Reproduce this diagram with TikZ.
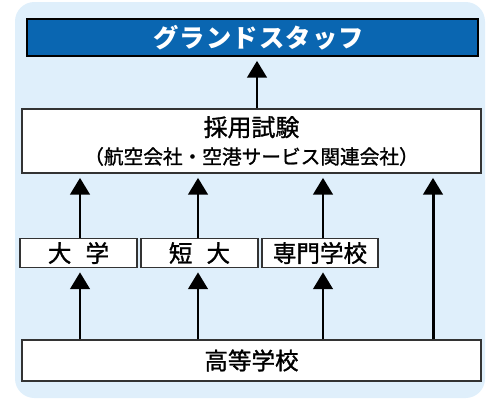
\documentclass[tikz,border=0pt]{standalone}
\usepackage{fontspec}
\setmainfont{Noto Sans CJK JP}
\newfontfamily\jpmed{Noto Sans CJK JP}[FakeBold=1.2]
\usepackage{tikz}
\usetikzlibrary{arrows.meta}

\definecolor{bgblue}{HTML}{DFEFFB}
\definecolor{staffblue}{HTML}{0A66B1}
\definecolor{edge}{HTML}{333333}

\tikzset{
  box/.style={draw=edge, line width=0.7pt, fill=white, inner sep=0pt,
    font=\jpmed\fontsize{13.4pt}{16pt}\selectfont},
  up/.style={-{Triangle[length=9.5pt,width=11pt]}, line width=1.7pt,
    shorten >=2.4pt}
}

\begin{document}
\begin{tikzpicture}[x=0.02cm,y=-0.02cm]
\useasboundingbox (0,0) rectangle (500,400);
\fill[bgblue, rounded corners=11pt] (15,2) rectangle (485,398);

\node[box, fill=staffblue, draw=black, text=white, minimum width=451*0.02cm,
  minimum height=37*0.02cm, font=\fontsize{14.4pt}{16pt}\selectfont\bfseries\addfontfeature{LetterSpace=5}]
  (staff) at (252.5,37.5) {\hspace*{7pt}グランドスタッフ};

\node[box, align=center, minimum width=459*0.02cm, minimum height=64*0.02cm,
  font=\jpmed\fontsize{11.2pt}{15.8pt}\selectfont] (exam) at (251.5,141)
  {{\fontsize{13.6pt}{15.8pt}\selectfont 採用試験}\\（航空会社・空港サービス関連会社）};

\node[box, minimum width=117*0.02cm, minimum height=29*0.02cm] (univ) at (78.5,253) {大\hspace{0.6em}学};
\node[box, minimum width=117*0.02cm, minimum height=29*0.02cm] (junior) at (199.5,253) {短\hspace{0.6em}大};
\node[box, minimum width=116*0.02cm, minimum height=29*0.02cm] (senmon) at (320,253) {専門学校};

\node[box, minimum width=459*0.02cm, minimum height=41*0.02cm] (high) at (251.5,360.5) {高等学校};

% arrows
\draw[up] (exam.north -| 257,0) -- (staff.south -| 257,0);
\draw[up] (univ.north -| 80,0) -- (exam.south -| 80,0);
\draw[up] (junior.north -| 198,0) -- (exam.south -| 198,0);
\draw[up] (senmon.north -| 323,0) -- (exam.south -| 323,0);
\draw[up] (high.north -| 433,0) -- (exam.south -| 433,0);
\draw[up] (high.north -| 80,0) -- (univ.south -| 80,0);
\draw[up] (high.north -| 198,0) -- (junior.south -| 198,0);
\draw[up] (high.north -| 323,0) -- (senmon.south -| 323,0);
\end{tikzpicture}
\end{document}
